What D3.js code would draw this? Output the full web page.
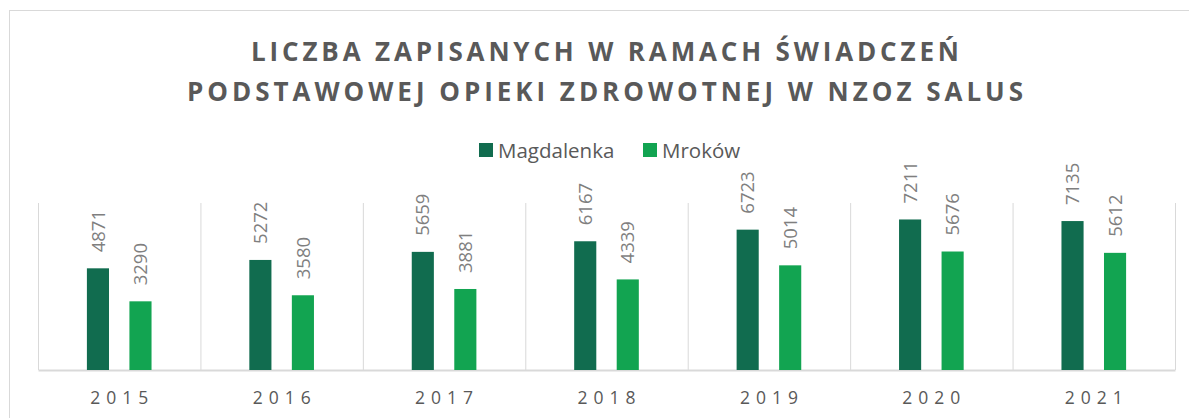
<!DOCTYPE html>
<html>
<head>
<meta charset="utf-8">
<script src="https://cdn.jsdelivr.net/npm/d3@7"></script>
<style>
  html, body { margin: 0; padding: 0; background: #fff; }
  svg { display: block; font-family: "Open Sans", "DejaVu Sans", sans-serif; }
</style>
</head>
<body>
<svg id="chart" width="1189" height="418"></svg>
<script>
const titleLines = ["LICZBA ZAPISANYCH W RAMACH ŚWIADCZEŃ", "PODSTAWOWEJ OPIEKI ZDROWOTNEJ W NZOZ SALUS"];
const years = ["2015", "2016", "2017", "2018", "2019", "2020", "2021"];
const seriesNames = ["Magdalenka", "Mroków"];
const magdalenka = [4871, 5272, 5659, 6167, 6723, 7211, 7135];
const mrokow = [3290, 3580, 3881, 4339, 5014, 5676, 5612];
const seriesColors = ["#116C4F", "#12A451"];
const yMax = 8000;

const svg = d3.select("#chart");
const plot = { left: 38, right: 1175, top: 203, bottom: 370 };

// outer chart border (extends beyond visible area)
svg.append("rect")
  .attr("x", 9.5).attr("y", 10.5)
  .attr("width", 1210).attr("height", 430)
  .attr("fill", "none").attr("stroke", "#d9d9d9").attr("stroke-width", 1);

// title: fit each line to the width seen in the reference
const titleSpec = [{ w: 708, y: 61 }, { w: 836, y: 101 }];
titleLines.forEach((t, i) => {
  const el = svg.append("text")
    .attr("fill", "#595959")
    .attr("font-size", 26)
    .attr("font-weight", 700)
    .attr("y", titleSpec[i].y)
    .text(t);
  const w = el.node().getComputedTextLength();
  const n = [...t].length;
  const ls = (titleSpec[i].w - w) / (n - 1);
  el.attr("letter-spacing", ls).attr("x", 605 - titleSpec[i].w / 2);
});

// legend
const legendItems = [
  { name: seriesNames[0], color: seriesColors[0], x: 479 },
  { name: seriesNames[1], color: seriesColors[1], x: 643 }
];
const lg = svg.append("g");
legendItems.forEach(d => {
  lg.append("rect").attr("x", d.x).attr("y", 143).attr("width", 14).attr("height", 14).attr("fill", d.color);
  lg.append("text").attr("x", d.x + 19).attr("y", 157.5)
    .attr("fill", "#595959").attr("font-size", 20.5).text(d.name);
});

// scales
const x0 = d3.scaleBand().domain(years).range([plot.left, plot.right]).paddingInner(0).paddingOuter(0);
const x1 = d3.scaleBand().domain(seriesNames).range([0, x0.bandwidth()]).paddingInner(0.48).paddingOuter(1.15);
const y = d3.scaleLinear().domain([0, yMax]).range([plot.bottom, plot.top]);

// separators
const bounds = years.map(d => x0(d)).concat([plot.right]);
svg.append("g").selectAll("line").data(bounds).join("line")
  .attr("x1", d => d + 0.5).attr("x2", d => d + 0.5)
  .attr("y1", plot.top).attr("y2", plot.bottom)
  .attr("stroke", "#d9d9d9").attr("stroke-width", 1);

// baseline axis
const xAxis = d3.axisBottom(x0).tickSize(0).tickPadding(0);
const axG = svg.append("g").attr("transform", `translate(0,${plot.bottom})`).call(xAxis);
axG.select(".domain").attr("stroke", "#d9d9d9").attr("stroke-width", 2);
axG.selectAll(".tick text")
  .attr("y", 34).attr("dy", 0)
  .attr("font-size", 17.5).attr("font-family", "Open Sans, sans-serif")
  .attr("letter-spacing", 6).attr("fill", "#595959")
  .attr("dx", 3);

// bars
const rows = years.map((yr, i) => ({ year: yr, values: [
  { s: seriesNames[0], v: magdalenka[i], c: seriesColors[0] },
  { s: seriesNames[1], v: mrokow[i], c: seriesColors[1] }
]}));

const groups = svg.append("g").selectAll("g").data(rows).join("g")
  .attr("transform", d => `translate(${x0(d.year)},0)`);

groups.selectAll("rect").data(d => d.values).join("rect")
  .attr("x", d => x1(d.s))
  .attr("width", x1.bandwidth())
  .attr("y", d => y(d.v))
  .attr("height", d => y(0) - y(d.v))
  .attr("fill", d => d.c);

groups.selectAll("text.lbl").data(d => d.values).join("text")
  .attr("class", "lbl")
  .attr("transform", d => `translate(${x1(d.s) + x1.bandwidth() / 2},${y(d.v) - 16}) rotate(-90)`)
  .attr("dy", "0.36em")
  .attr("text-anchor", "start")
  .attr("font-size", 18.5)
  .attr("fill", "#7f7f7f")
  .text(d => d.v);
</script>
</body>
</html>
